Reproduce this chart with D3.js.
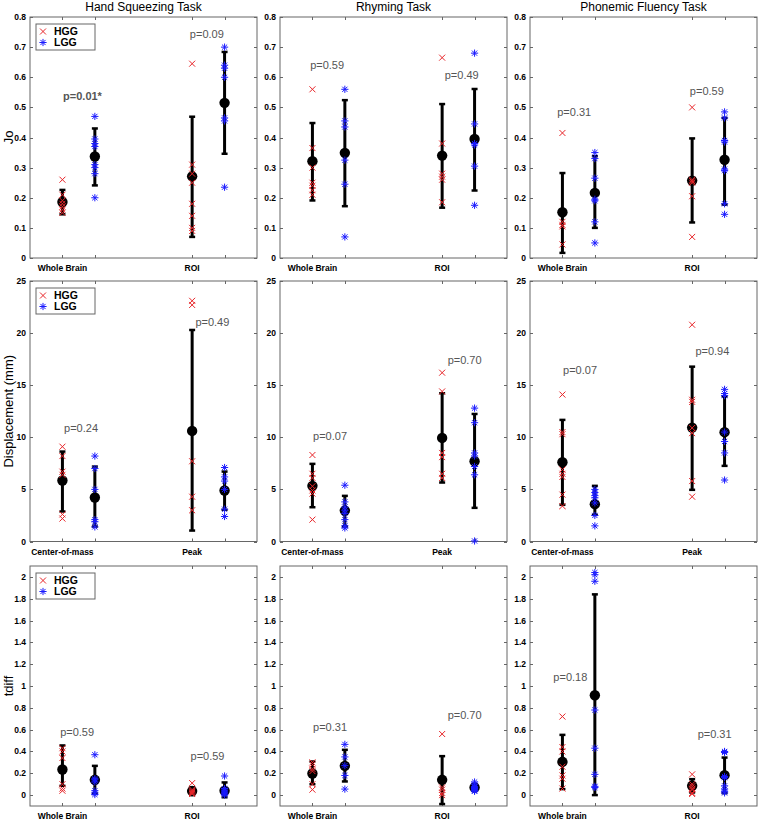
<!DOCTYPE html>
<html>
<head>
<meta charset="utf-8">
<script src="https://cdn.jsdelivr.net/npm/d3@7"></script>
<style>
  body { margin: 0; background: #fff; }
  svg { display: block; font-family: "Liberation Sans", Arial, sans-serif; }
</style>
</head>
<body>
<svg width="759" height="820"></svg>
<script>
// titles and labels
const tasks = ["Hand Squeezing Task", "Rhyming Task", "Phonemic Fluency Task"];
const metrics = ["Jo", "Displacement (mm)", "tdiff"];
const catLabels = [
  [["Whole Brain", "ROI"], ["Whole Brain", "ROI"], ["Whole Brain", "ROI"]],
  [["Center-of-mass", "Peak"], ["Center-of-mass", "Peak"], ["Center-of-mass", "Peak"]],
  [["Whole Brain", "ROI"], ["Whole Brain", "ROI"], ["Whole brain", "ROI"]]
];
const yTicks = [
  d3.range(0, 0.81, 0.1),
  d3.range(0, 26, 5),
  d3.range(0, 2.01, 0.2)
];
const yDomains = [[0, 0.8], [0, 25], [-0.1, 2.1]];

// groups: HGG whole/com, LGG whole/com, HGG roi/peak, LGG roi/peak
const groupPos = [1, 2, 5, 6];
const groupType = ["HGG", "LGG", "HGG", "LGG"];

// Jo
const handJo = [
  [0.26, 0.21, 0.19, 0.18, 0.17, 0.16, 0.15],
  [0.47, 0.395, 0.38, 0.37, 0.31, 0.30, 0.28, 0.20],
  [0.645, 0.31, 0.28, 0.25, 0.18, 0.14, 0.10, 0.09],
  [0.70, 0.64, 0.63, 0.60, 0.465, 0.455, 0.235]
];
const handJoStats = [[0.186, 0.145, 0.226], [0.337, 0.241, 0.43], [0.271, 0.07, 0.469], [0.515, 0.346, 0.684]];
const rhymeJo = [
  [0.56, 0.365, 0.30, 0.25, 0.24, 0.225, 0.21],
  [0.56, 0.455, 0.435, 0.325, 0.245, 0.07],
  [0.665, 0.38, 0.28, 0.27, 0.26, 0.185],
  [0.68, 0.445, 0.38, 0.375, 0.305, 0.175]
];
const rhymeJoStats = [[0.321, 0.191, 0.448], [0.349, 0.172, 0.524], [0.34, 0.167, 0.511], [0.395, 0.224, 0.561]];
const phonJo = [
  [0.415, 0.12, 0.11, 0.105, 0.045],
  [0.35, 0.33, 0.265, 0.195, 0.19, 0.12, 0.05],
  [0.50, 0.26, 0.255, 0.25, 0.205, 0.07],
  [0.485, 0.465, 0.39, 0.385, 0.295, 0.29, 0.18, 0.145]
];
const phonJoStats = [[0.152, 0.017, 0.282], [0.216, 0.10, 0.338], [0.257, 0.118, 0.397], [0.326, 0.177, 0.465]];

// Displacement
const handDisp = [
  [9.1, 8.2, 6.7, 6.4, 2.6, 2.2],
  [8.2, 7.0, 5.0, 2.1, 1.9, 1.4],
  [23.1, 22.7, 7.7, 4.3, 3.0],
  [7.1, 6.2, 5.8, 5.0, 3.1, 2.4]
];
const handDispStats = [[5.85, 2.88, 8.63], [4.22, 1.44, 7.19], [10.61, 1.05, 20.3], [4.89, 3.04, 6.71]];
const rhymeDisp = [
  [8.3, 6.5, 6.1, 5.3, 4.9, 4.6, 2.1],
  [5.4, 3.8, 3.3, 3.0, 2.7, 2.1, 1.5, 1.3],
  [16.2, 14.4, 8.5, 8.1, 6.5, 6.1],
  [12.8, 11.4, 8.5, 8.2, 7.2, 6.4, 0.05]
];
const rhymeDispStats = [[5.34, 3.29, 7.45], [2.97, 1.44, 4.38], [9.94, 5.66, 14.23], [7.7, 3.23, 12.24]];
const phonDisp = [
  [14.1, 10.5, 10.3, 6.9, 6.5, 6.2, 4.5, 3.4],
  [5.0, 4.7, 4.4, 4.2, 3.7, 2.5, 1.5],
  [20.8, 13.6, 13.4, 10.9, 10.4, 5.8, 4.3],
  [14.6, 14.2, 14.0, 10.5, 9.6, 8.5, 5.9]
];
const phonDispStats = [[7.61, 3.52, 11.67], [3.58, 2.56, 5.34], [10.93, 4.96, 16.78], [10.49, 7.26, 13.91]];

// tdiff
const handTd = [
  [0.43, 0.40, 0.34, 0.10, 0.06, 0.04],
  [0.37, 0.15, 0.14, 0.12, 0.04, 0.02, 0.005],
  [0.11, 0.05, 0.04, 0.03, 0.02, 0.01],
  [0.175, 0.06, 0.045, 0.03, 0.02, 0.01, 0.0]
];
const handTdStats = [[0.235, 0.085, 0.455], [0.14, 0.015, 0.268], [0.037, 0.0, 0.07], [0.04, -0.02, 0.116]];
const rhymeTd = [
  [0.30, 0.28, 0.24, 0.22, 0.10, 0.05],
  [0.465, 0.35, 0.27, 0.18, 0.055],
  [0.56, 0.07, 0.05, 0.02, 0.0],
  [0.12, 0.10, 0.08, 0.07, 0.06, 0.05, 0.04, 0.035]
];
const rhymeTdStats = [[0.198, 0.10, 0.308], [0.268, 0.125, 0.415], [0.14, -0.082, 0.357], [0.07, 0.04, 0.10]];
const phonTd = [
  [0.72, 0.44, 0.40, 0.26, 0.18, 0.15, 0.06],
  [2.04, 2.02, 1.96, 0.78, 0.43, 0.19, 0.08, 0.07],
  [0.19, 0.10, 0.08, 0.06, 0.05, 0.02, 0.01],
  [0.40, 0.39, 0.17, 0.16, 0.085, 0.055, 0.035, 0.02]
];
const phonTdStats = [[0.305, 0.055, 0.552], [0.915, 0.0, 1.84], [0.085, 0.024, 0.146], [0.183, 0.018, 0.344]];

// p-values: [text, x, y]
const pLabels = [
  [[["p=0.01*", 1.02, 0.525]], [["p=0.09", 4.93, 0.73]]],
  [[["p=0.59", 0.93, 0.628]], [["p=0.49", 5.08, 0.593]]],
  [[["p=0.31", 0.84, 0.473]], [["p=0.59", 4.93, 0.541]]],
  [[["p=0.24", 1.05, 10.5]], [["p=0.49", 5.1, 20.7]]],
  [[["p=0.07", 1.02, 9.75]], [["p=0.70", 5.17, 17.0]]],
  [[["p=0.07", 1.02, 16.05]], [["p=0.94", 5.1, 17.9]]],
  [[["p=0.59", 0.93, 0.545]], [["p=0.59", 4.95, 0.325]]],
  [[["p=0.31", 1.02, 0.59]], [["p=0.70", 5.17, 0.70]]],
  [[["p=0.18", 0.72, 1.05]], [["p=0.31", 5.17, 0.52]]]
];

const panelPoints = [handJo, rhymeJo, phonJo, handDisp, rhymeDisp, phonDisp, handTd, rhymeTd, phonTd];
const panelStats = [handJoStats, rhymeJoStats, phonJoStats, handDispStats, rhymeDispStats, phonDispStats, handTdStats, rhymeTdStats, phonTdStats];

const svg = d3.select("svg");
const red = "#e8262a", blue = "#1a1aff", grey = "#555";

const colLeft = [30, 280, 530];
const panelW = 227;
const rowTop = [17, 281, 566];
const rowBot = [258, 541.5, 806];

const xMark = s => `M${-s},${-s}L${s},${s}M${-s},${s}L${s},${-s}`;
const starMark = s => {
  const k = s * 0.72;
  return `M${-s},0H${s}M0,${-s}V${s}M${-k},${-k}L${k},${k}M${-k},${k}L${k},${-k}`;
};

for (let r = 0; r < 3; r++) {
  for (let c = 0; c < 3; c++) {
    const idx = r * 3 + c;
    const x = d3.scaleLinear().domain([0, 7]).range([colLeft[c], colLeft[c] + panelW]);
    const y = d3.scaleLinear().domain(yDomains[r]).range([rowBot[r], rowTop[r]]);
    const g = svg.append("g");

    // box
    g.append("rect")
      .attr("x", colLeft[c]).attr("y", rowTop[r])
      .attr("width", panelW).attr("height", rowBot[r] - rowTop[r])
      .attr("fill", "none").attr("stroke", "#666").attr("stroke-width", 1);

    // y ticks (inside, both sides)
    const yt = g.append("g");
    yTicks[r].forEach(t => {
      const yy = Math.round(y(t)) + 0.5;
      yt.append("line").attr("x1", colLeft[c]).attr("x2", colLeft[c] + 3)
        .attr("y1", yy).attr("y2", yy).attr("stroke", "#666");
      yt.append("line").attr("x1", colLeft[c] + panelW - 3).attr("x2", colLeft[c] + panelW)
        .attr("y1", yy).attr("y2", yy).attr("stroke", "#666");
      yt.append("text")
        .attr("x", colLeft[c] - 4).attr("y", y(t) + 3)
        .attr("text-anchor", "end")
        .attr("font-size", 8.5).attr("font-weight", "bold")
        .text(d3.format("~g")(+t.toFixed(2)));
    });

    // x ticks top and bottom
    groupPos.forEach(p => {
      const xx = Math.round(x(p)) + 0.5;
      g.append("line").attr("x1", xx).attr("x2", xx).attr("y1", rowBot[r]).attr("y2", rowBot[r] - 3).attr("stroke", "#666");
      g.append("line").attr("x1", xx).attr("x2", xx).attr("y1", rowTop[r]).attr("y2", rowTop[r] + 3).attr("stroke", "#666");
    });
    catLabels[r][c].forEach((lab, i) => {
      g.append("text")
        .attr("x", x(groupPos[i * 2])).attr("y", rowBot[r] + 13)
        .attr("text-anchor", "middle")
        .attr("font-size", 8.5).attr("font-weight", "bold")
        .text(lab);
    });

    // error bars and means
    const stats = panelStats[idx];
    stats.forEach((s, i) => {
      const xx = x(groupPos[i]);
      g.append("line").attr("x1", xx).attr("x2", xx)
        .attr("y1", y(s[1])).attr("y2", y(s[2]))
        .attr("stroke", "#000").attr("stroke-width", 3);
      [s[1], s[2]].forEach(v => {
        g.append("line").attr("x1", xx - 3).attr("x2", xx + 3)
          .attr("y1", y(v)).attr("y2", y(v))
          .attr("stroke", "#000").attr("stroke-width", 2.5);
      });
      g.append("circle").attr("cx", xx).attr("cy", y(s[0])).attr("r", 5.2).attr("fill", "#000");
    });

    // points
    panelPoints[idx].forEach((pts, i) => {
      const isH = groupType[i] === "HGG";
      g.selectAll(null)
        .data(pts)
        .join("path")
        .attr("transform", d => `translate(${x(groupPos[i])},${y(d)})`)
        .attr("d", isH ? xMark(3) : starMark(3.6))
        .attr("fill", "none")
        .attr("stroke", isH ? red : blue)
        .attr("stroke-width", 1);
    });

    // p values
    pLabels[idx].forEach(arr => arr.forEach(p => {
      g.append("text")
        .attr("x", x(p[1])).attr("y", y(p[2]))
        .attr("font-size", 11)
        .attr("font-weight", p[0].includes("*") ? "bold" : "normal")
        .attr("fill", grey)
        .text(p[0]);
    }));

    // titles
    if (r === 0) {
      g.append("text")
        .attr("x", colLeft[c] + panelW / 2).attr("y", 11)
        .attr("text-anchor", "middle").attr("font-size", 12)
        .text(tasks[c]);
    }
    // y labels
    if (c === 0) {
      const cy = (rowTop[r] + rowBot[r]) / 2;
      g.append("text")
        .attr("transform", `translate(13,${cy}) rotate(-90)`)
        .attr("text-anchor", "middle").attr("font-size", 13)
        .text(metrics[r]);

      // legend
      const lg = g.append("g").attr("transform", `translate(${colLeft[c] + 6},${rowTop[r] + 7})`);
      lg.append("rect").attr("width", 59).attr("height", 26)
        .attr("fill", "#fff").attr("stroke", "#666");
      lg.append("path").attr("d", xMark(3)).attr("transform", "translate(7,7.5)")
        .attr("stroke", red).attr("fill", "none");
      lg.append("path").attr("d", starMark(3.6)).attr("transform", "translate(7,18.5)")
        .attr("stroke", blue).attr("fill", "none");
      lg.append("text").attr("x", 18).attr("y", 11).attr("font-size", 10.5)
        .attr("font-weight", "bold").text("HGG");
      lg.append("text").attr("x", 18).attr("y", 22).attr("font-size", 10.5)
        .attr("font-weight", "bold").text("LGG");
    }
  }
}
</script>
</body>
</html>
